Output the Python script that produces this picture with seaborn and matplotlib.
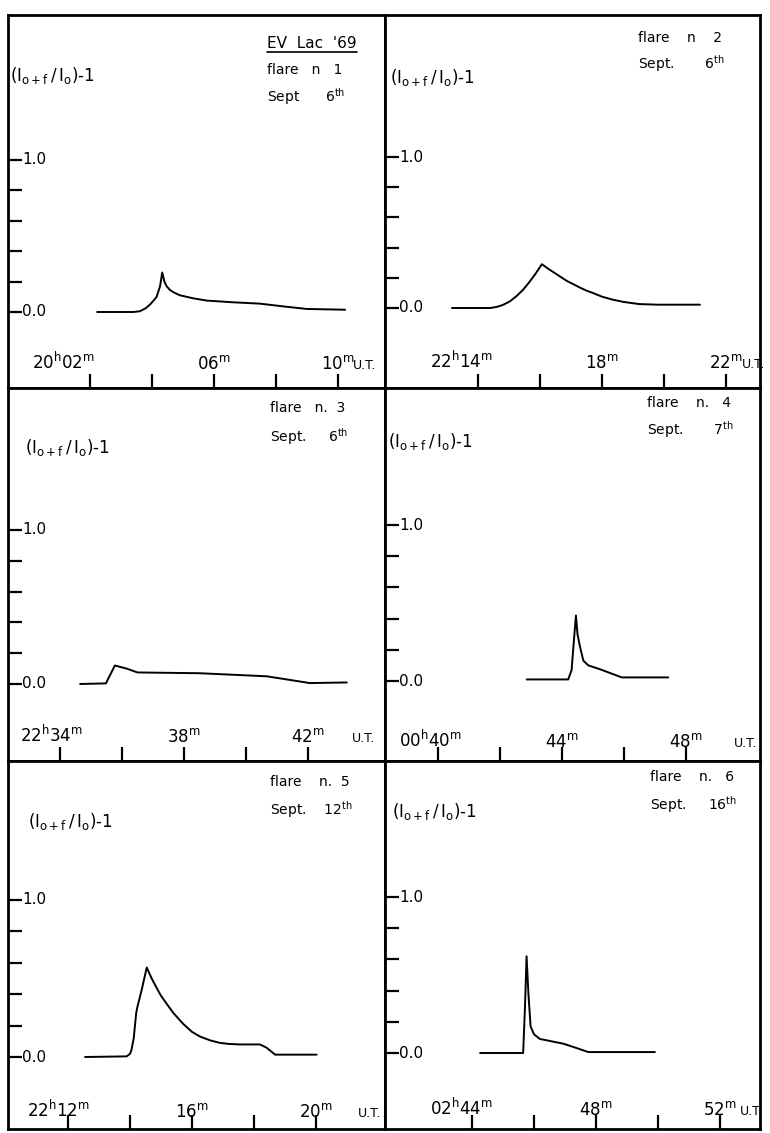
import numpy as np
import pandas as pd
import seaborn as sns
import matplotlib.pyplot as plt

# EV Lac 1969 flares: minutes past the hour (U.T.) and (I_o+f / I_o) - 1
t1 = [2.23, 3.40, 3.61, 3.80, 3.94, 4.05, 4.15, 4.26, 4.33, 4.40, 4.47, 4.58, 4.69, 4.90, 5.33,
      5.77, 6.60, 7.48, 8.23, 8.99, 10.23]
v1 = [0.0, 0.0, 0.005, 0.025, 0.05, 0.075, 0.10, 0.17, 0.26, 0.20, 0.17, 0.145, 0.13, 0.11, 0.09,
      0.075, 0.064, 0.055, 0.037, 0.02, 0.015]

t2 = [13.16, 14.40, 14.60, 14.80, 15.03, 15.25, 15.45, 15.65, 15.85, 16.06, 16.30, 16.60, 16.86,
      17.10, 17.29, 17.50, 17.70, 18.00, 18.35, 18.70, 19.20, 19.80, 21.16]
v2 = [0.0, 0.0, 0.007, 0.02, 0.044, 0.08, 0.12, 0.17, 0.225, 0.29, 0.255, 0.215, 0.18,
      0.155, 0.135, 0.115, 0.10, 0.075, 0.055, 0.04, 0.026, 0.022, 0.022]

t3 = [34.65, 35.48, 35.77, 36.15, 36.50, 38.50, 40.67, 42.06, 43.25]
v3 = [0.0, 0.004, 0.12, 0.10, 0.075, 0.07, 0.05, 0.006, 0.01]

t4 = [42.86, 44.20, 44.31, 44.40, 44.45, 44.50, 44.58, 44.69, 44.85, 45.23, 45.93, 47.43]
v4 = [0.01, 0.01, 0.07, 0.30, 0.42, 0.30, 0.22, 0.13, 0.10, 0.075, 0.023, 0.023]

t5 = [12.55, 13.89, 14.00, 14.05, 14.12, 14.20, 14.24, 14.38, 14.54, 14.70, 14.86, 15.00, 15.18,
      15.40, 15.72, 16.00, 16.26, 16.60, 16.90, 17.20, 17.55, 18.19, 18.40, 18.68, 20.02]
v5 = [0.0, 0.004, 0.02, 0.047, 0.12, 0.28, 0.32, 0.43, 0.57, 0.50, 0.44, 0.39, 0.34,
      0.28, 0.21, 0.16, 0.13, 0.105, 0.09, 0.083, 0.08, 0.08, 0.06, 0.015, 0.015]

t6 = [44.26, 45.65, 45.71, 45.76, 45.82, 45.89, 46.00, 46.19, 46.94, 47.37, 47.75, 49.90]
v6 = [0.0, 0.0, 0.30, 0.62, 0.38, 0.17, 0.12, 0.09, 0.06, 0.032, 0.006, 0.006]

times = [t1, t2, t3, t4, t5, t6]
values = [v1, v2, v3, v4, v5, v6]

first_minute = [2, 14, 34, 40, 12, 44]
hour_labels = ["20", "22", "22", "00", "22", "02"]
flare_lines = ["flare   n   1", "flare    n    2", "flare   n.  3",
               "flare    n.   4", "flare    n.  5", "flare    n.   6"]
date_lines = ["Sept      6$^{th}$", "Sept.       6$^{th}$", "Sept.     6$^{th}$",
              "Sept.       7$^{th}$", "Sept.    12$^{th}$", "Sept.     16$^{th}$"]
ylabel = r"$(\mathrm{I}_{o+f}\,/\,\mathrm{I}_{o})$-1"

sns.set_style("white")
plt.rcParams["font.family"] = ["DejaVu Sans"]
plt.rcParams["mathtext.default"] = "regular"
plt.rcParams["text.color"] = "black"

W, H = 770, 1133
fig = plt.figure(figsize=(W / 100, H / 100), dpi=100)

cols = [(8, 385), (385, 760)]
rows = [(15, 388), (388, 761), (761, 1129)]
# pixel anchors per panel: first x tick, y of 0.0, y of 1.0
anchors = [(90, 312, 160), (478, 308, 157), (60, 684, 530),
           (438, 681, 525), (68, 1057, 900), (472, 1053, 897)]
px_per_min = 31.0
# text placement per panel (pixels): header left x, flare y, date y, ylabel x, ylabel y,
# first label right overhang, label baseline above bottom, U.T. left x
text_pos = [(267, 70, 97, 10, 75, 5, 19, 353),
            (638, 38, 64, 390, 77, 15, 20, 742),
            (270, 408, 437, 25, 448, 23, 19, 352),
            (647, 403, 430, 388, 442, 24, 14, 734),
            (270, 782, 810, 28, 822, 22, 12, 358),
            (650, 777, 805, 392, 812, 21, 14, 740)]

for i in range(6):
    x0, x1 = cols[i % 2]
    ytop, ybot = rows[i // 2]
    ax = fig.add_axes([x0 / W, 1 - ybot / H, (x1 - x0) / W, (ybot - ytop) / H])
    tick_px, zero_px, one_px = anchors[i]
    sy = zero_px - one_px
    m0 = first_minute[i]
    ax.set_xlim(m0 - (tick_px - x0) / px_per_min, m0 + (x1 - tick_px) / px_per_min)
    ax.set_ylim(-(ybot - zero_px) / sy, (zero_px - ytop) / sy)

    df = pd.DataFrame({"t": times[i], "v": values[i]})
    sns.lineplot(data=df, x="t", y="v", ax=ax, color="black", lw=1.4,
                 sort=False, estimator=None)

    ax.set_xticks(np.arange(m0, m0 + 9, 2))
    ax.set_yticks(np.arange(0, 1.01, 0.2))
    ax.tick_params(direction="in", length=10, width=1.6, color="black",
                   bottom=True, left=True, top=False, right=False,
                   labelbottom=False, labelleft=False)
    ax.set_xlabel("")
    ax.set_ylabel("")
    for s in ax.spines.values():
        s.set_visible(True)
        s.set_linewidth(2.0)
        s.set_color("black")

    def fx(px):
        return (px - x0) / (x1 - x0)

    def fy(py):
        return (ybot - py) / (ybot - ytop)

    hx, fly, dty, ylx, yly, over, base, utx = text_pos[i]
    ax.text(fx(hx), fy(fly), flare_lines[i], transform=ax.transAxes,
            fontsize=10, va="center", ha="left")
    ax.text(fx(hx), fy(dty), date_lines[i], transform=ax.transAxes,
            fontsize=10, va="center", ha="left")
    ax.text(fx(ylx), fy(yly), ylabel, transform=ax.transAxes,
            fontsize=12, va="center", ha="left")

    # y tick labels sit inside the frame
    for val, lab in [(0.0, "0.0"), (1.0, "1.0")]:
        ax.text(fx(x0 + 14), val, lab, transform=ax.get_yaxis_transform(),
                fontsize=11, va="center", ha="left")

    # x tick labels above the ticks
    lab_y = base / (ybot - ytop)
    xt = ax.get_xaxis_transform()
    ax.text(m0 + over / px_per_min, lab_y,
            "$%s^{h}%02d^{m}$" % (hour_labels[i], m0),
            transform=xt, fontsize=12, ha="right", va="baseline")
    ax.text(m0 + 4, lab_y, "$%02d^{m}$" % ((m0 + 4) % 60),
            transform=xt, fontsize=12, ha="center", va="baseline")
    ax.text(m0 + 8, lab_y, "$%02d^{m}$" % ((m0 + 8) % 60),
            transform=xt, fontsize=12, ha="center", va="baseline")
    ax.text(fx(utx), lab_y, "U.T.", transform=ax.transAxes,
            fontsize=9, ha="left", va="baseline")

    if i == 0:
        title = ax.text(fx(267), fy(43), "EV  Lac  '69", transform=ax.transAxes,
                        fontsize=11, va="center", ha="left")
        fig.canvas.draw()
        bb = title.get_window_extent().transformed(fig.transFigure.inverted())
        fig.add_artist(plt.Line2D([bb.x0, bb.x1], [bb.y0 - 0.001, bb.y0 - 0.001],
                                  transform=fig.transFigure, color="black", lw=1.2))

fig.savefig("out.png", dpi=100)
